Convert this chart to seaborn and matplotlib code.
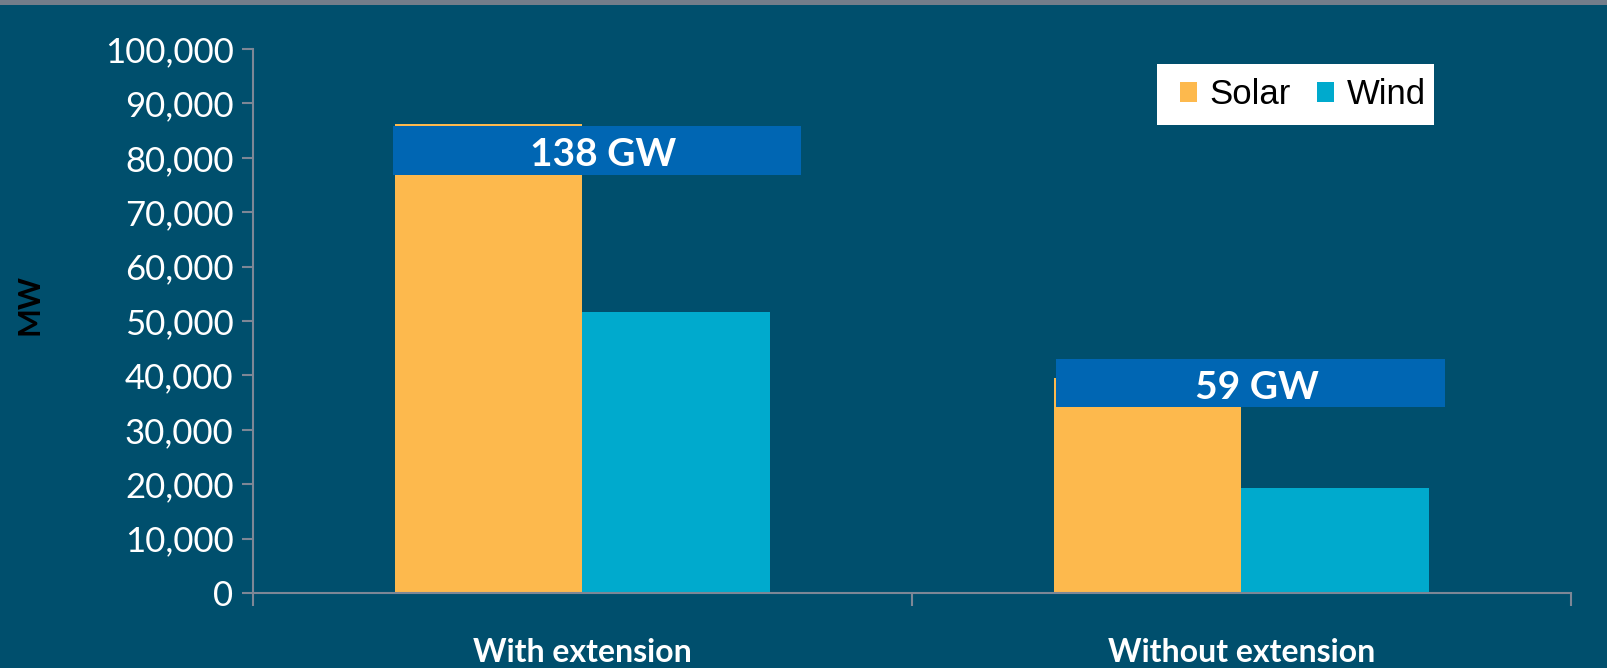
import matplotlib
matplotlib.use("Agg")
import matplotlib.pyplot as plt
import matplotlib.patches as mpatches
from matplotlib.ticker import FuncFormatter, FixedLocator
import seaborn as sns
import pandas as pd

# Installed capacity in MW, by scenario and technology
scenarios = ["With extension", "Without extension"]
solar_mw = [86200, 39500]
wind_mw = [51600, 19300]
technologies = ["Solar", "Wind"]

# Layout of the total-capacity banners (data coordinates, relative to each category)
banner_top = [85800, 43000]
banner_height = 8900
banner_left = [-0.288, -0.281]
banner_right = [0.332, 0.309]

BG = "#004f6d"
SOLAR = "#fdb94d"
WIND = "#00aacd"
BANNER = "#0066b3"
AXIS = "#7d8796"

df = pd.DataFrame({
    "scenario": scenarios * 2,
    "tech": [technologies[0]] * len(scenarios) + [technologies[1]] * len(scenarios),
    "mw": solar_mw + wind_mw,
})

sns.set_theme(style="white")
plt.rcParams["font.family"] = ["Lato", "DejaVu Sans"]

fig = plt.figure(figsize=(16.08, 6.68), dpi=100)
fig.patch.set_facecolor(BG)
# thin grey band across the top edge
fig.patches.append(mpatches.Rectangle((0, 1 - 5 / 668), 1, 5 / 668, transform=fig.transFigure,
                                      facecolor="#737d8a", edgecolor="none", zorder=0))

ax = fig.add_axes([253 / 1608, 1 - 593 / 668, (1571 - 253) / 1608, (593 - 49) / 668])
ax.set_facecolor(BG)

sns.barplot(data=df, x="scenario", y="mw", hue="tech", order=scenarios,
            hue_order=technologies, palette=[SOLAR, WIND], width=0.57, gap=0,
            dodge=True, saturation=1, ax=ax, legend=False, edgecolor="none")

ax.set_xlim(-0.5, len(scenarios) - 0.5)
ax.set_ylim(0, 100000)
ax.set_yticks(range(0, 100001, 10000))
ax.yaxis.set_major_formatter(FuncFormatter(lambda v, p: f"{int(v):,}"))

# category boundaries as major ticks, names as minor ticks
ax.xaxis.set_major_locator(FixedLocator([i - 0.5 for i in range(len(scenarios) + 1)]))
ax.xaxis.set_minor_locator(FixedLocator(list(range(len(scenarios)))))
ax.set_xticklabels([""] * (len(scenarios) + 1))
ax.set_xticklabels(scenarios, minor=True)
ax.tick_params(axis="x", which="major", length=9.5, width=1.5, color=AXIS, direction="out", bottom=True)
ax.tick_params(axis="x", which="minor", length=0, pad=32.5, labelsize=23, labelcolor="white", bottom=True)
for t in ax.get_xticklabels(minor=True):
    t.set_fontweight("bold")
ax.tick_params(axis="y", length=8, width=1.5, color=AXIS, direction="out", left=True,
               labelsize=25, labelcolor="white", pad=6)

for side in ["top", "right"]:
    ax.spines[side].set_visible(False)
for side in ["left", "bottom"]:
    ax.spines[side].set_color(AXIS)
    ax.spines[side].set_linewidth(1.5)

ax.set_xlabel("")
ax.set_ylabel("")
fig.text(30 / 1608, 1 - 305 / 668, "MW", rotation=90, ha="center", va="center",
         fontsize=22, fontweight="bold", color="black")

# total-capacity banners
for i, (s, w) in enumerate(zip(solar_mw, wind_mw)):
    top = banner_top[i]
    left, right = banner_left[i], banner_right[i]
    ax.add_patch(mpatches.Rectangle((i + left, top - banner_height), right - left, banner_height,
                                    facecolor=BANNER, edgecolor="none", zorder=5))
    ax.text(i + (left + right) / 2 + 0.01, top - banner_height * 0.53,
            f"{round((s + w) / 1000)} GW", ha="center", va="center_baseline",
            fontsize=28, fontweight="bold", color="white", zorder=6)

# legend on a white panel
fig.patches.append(mpatches.Rectangle((1157 / 1608, 1 - 125 / 668), (1434 - 1157) / 1608, 61 / 668,
                                      transform=fig.transFigure, facecolor="white",
                                      edgecolor="none", zorder=3))
handles = [mpatches.Patch(facecolor=c, edgecolor="none") for c in (SOLAR, WIND)]
leg = fig.legend(handles, technologies, loc="center left",
                 bbox_to_anchor=(1180 / 1608, 1 - 95 / 668), ncol=2, frameon=False,
                 prop={"family": "Liberation Sans", "size": 25},
                 handlelength=0.5, handleheight=0.5, handletextpad=0.35,
                 columnspacing=0.75, borderpad=0, borderaxespad=0)
leg.set_zorder(4)
for t in leg.get_texts():
    t.set_color("black")

fig.savefig("out.png", dpi=100, facecolor=BG)
